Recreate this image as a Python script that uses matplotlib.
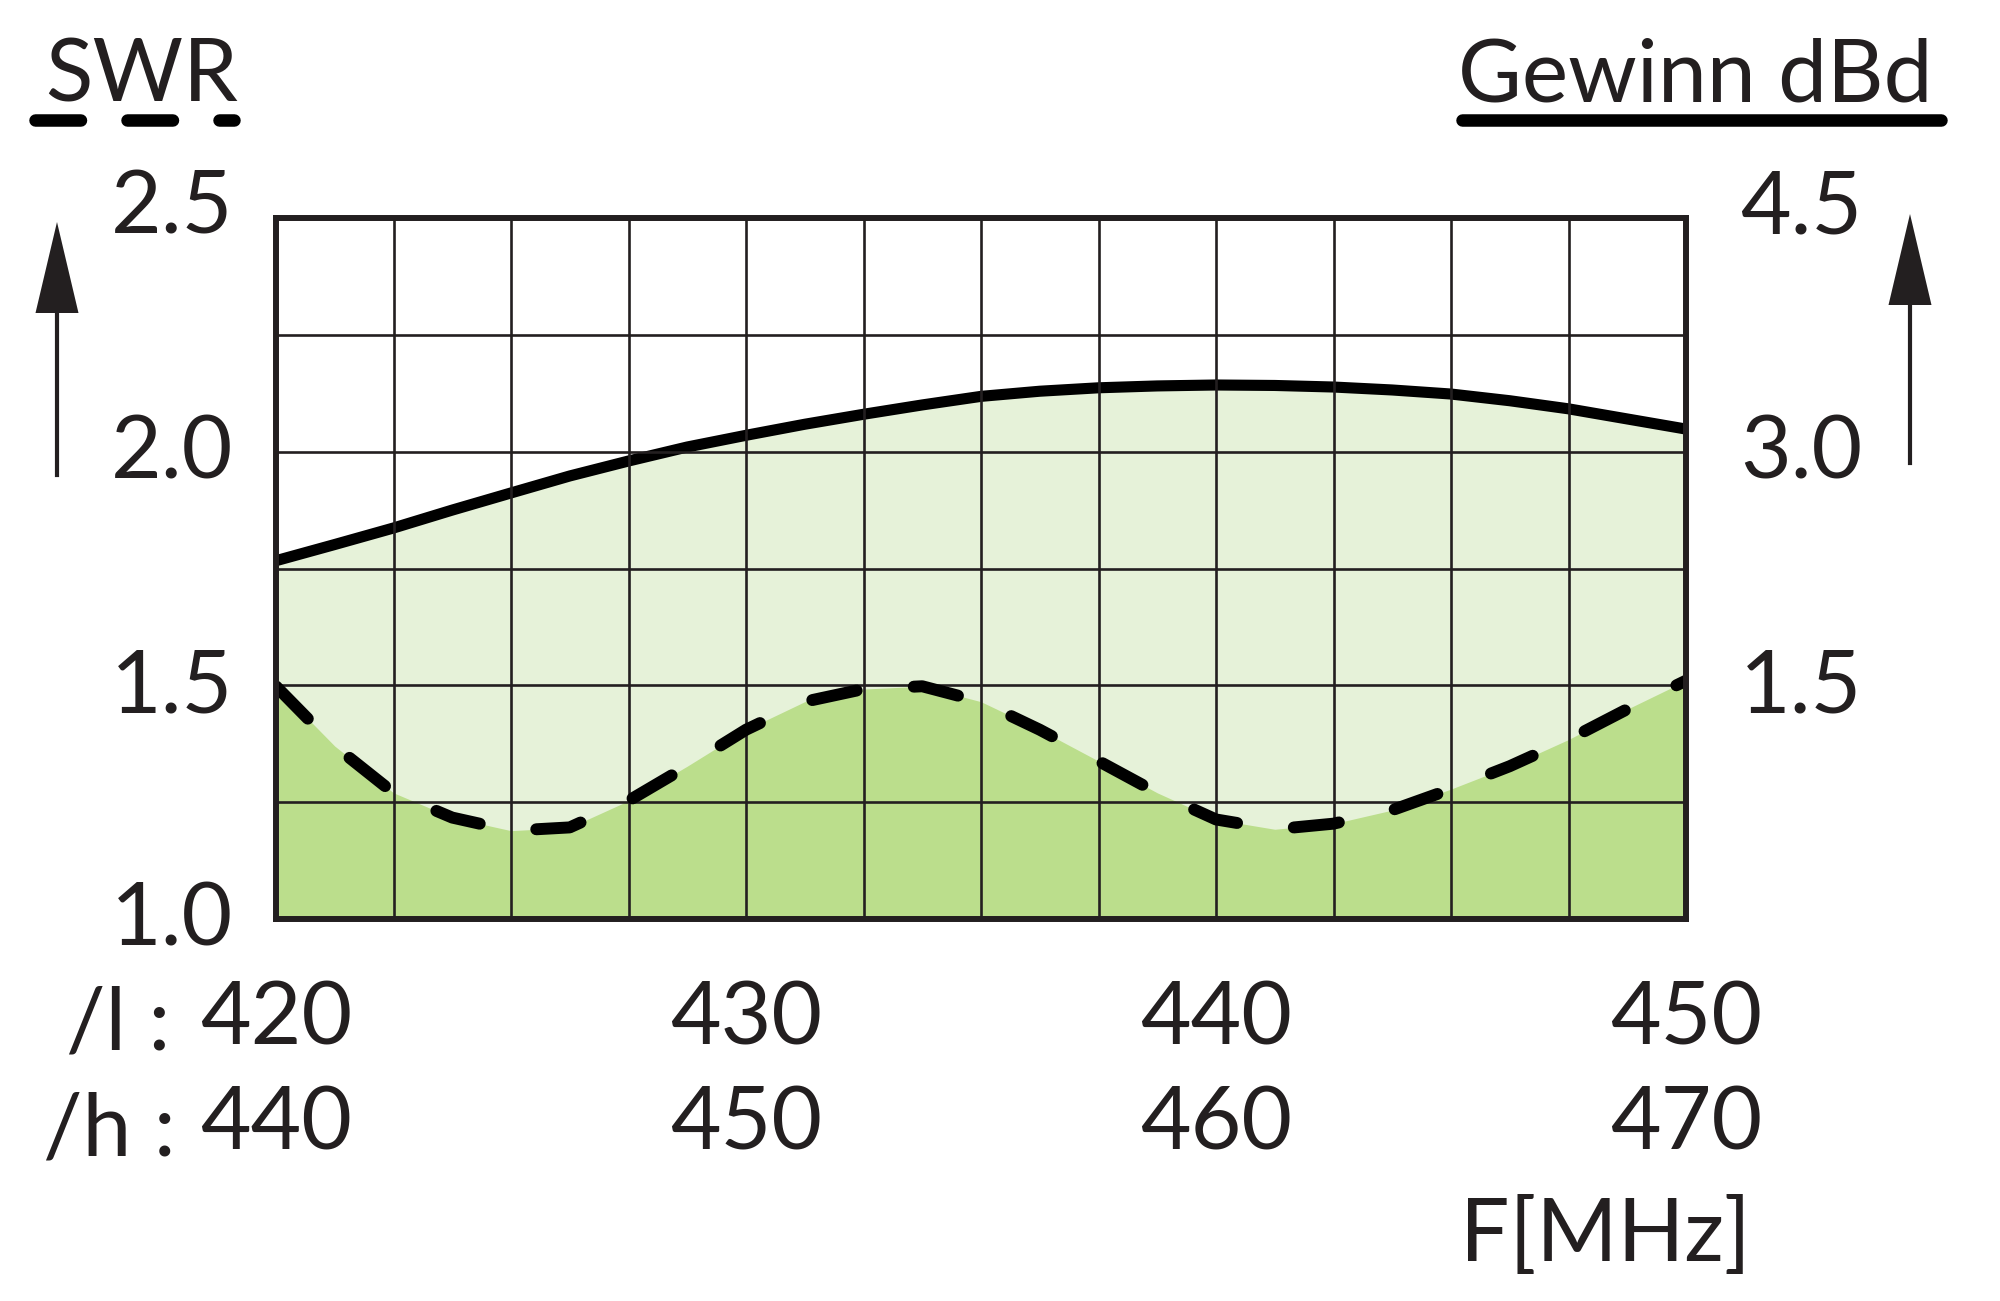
import numpy as np
import matplotlib
matplotlib.use("Agg")
import matplotlib.pyplot as plt
from matplotlib.lines import Line2D
from matplotlib.patches import Polygon
from matplotlib.transforms import offset_copy

# SWR curve (dashed), read every 1.25 MHz of the lower band
freq_swr = [420, 421.25, 422.5, 423.75, 425, 426.25, 427.5, 428.75, 430, 431.25,
            432.5, 433.75, 435, 436.25, 437.5, 438.75, 440, 441.25, 442.5, 443.75,
            445, 446.25, 447.5, 448.75, 450]
swr = [1.498, 1.37, 1.27, 1.217, 1.189, 1.196, 1.253, 1.327, 1.405, 1.465,
       1.492, 1.498, 1.465, 1.405, 1.338, 1.27, 1.213, 1.192, 1.204, 1.233,
       1.278, 1.327, 1.384, 1.449, 1.51]

# gain curve (solid), dBd
freq_gain = [420, 421.25, 422.5, 423.75, 425, 426.25, 427.5, 428.75, 430, 431.25,
             432.5, 433.75, 435, 436.25, 437.5, 438.75, 440, 441.25, 442.5, 443.75,
             445, 446.25, 447.5, 448.75, 450]
gain = [2.30, 2.404, 2.51, 2.625, 2.735, 2.844, 2.94, 3.03, 3.105, 3.176,
        3.24, 3.30, 3.355, 3.388, 3.41, 3.422, 3.428, 3.425, 3.415, 3.396,
        3.37, 3.327, 3.275, 3.21, 3.145]

low_ticks = [420, 430, 440, 450]
high_ticks = [440, 450, 460, 470]
swr_ticks = [1.0, 1.5, 2.0, 2.5]
gain_ticks = [1.5, 3.0, 4.5]

INK = '#231f20'
LIGHT = '#e6f2d9'
DARK = '#bbde8c'
FS = 63
W, H = 2000, 1301

plt.rcParams['font.family'] = ['Lato', 'DejaVu Sans']
plt.rcParams['text.color'] = INK


def fx(px):
    return px / W


def fy(py):
    return 1 - py / H


fig = plt.figure(figsize=(W / 100, H / 100), dpi=100)
fig.patch.set_facecolor('white')

left, right, top, bottom = 276, 1686, 218, 919
ax = fig.add_axes([fx(left), fy(bottom), fx(right - left), (bottom - top) / H])
ax2 = ax.twinx()
ax.set_zorder(ax2.get_zorder() + 1)
ax.patch.set_visible(False)

# gain on the right-hand scale (drawn behind)
ax2.fill_between(freq_gain, 0, gain, color=LIGHT, lw=0, zorder=1)
ax2.plot(freq_gain, gain, color='black', lw=8, solid_capstyle='butt',
         solid_joinstyle='round', zorder=3)
ax2.set_ylim(0, 4.5)
ax2.set_yticks([])
for s in ax2.spines.values():
    s.set_visible(False)

# SWR on the left-hand scale
ax.fill_between(freq_swr, 1.0, swr, color=DARK, lw=0, zorder=1)
ax.plot(freq_swr, swr, color='black', lw=8.6, ls=(0, (3.8, 4.8)),
        dash_capstyle='round', dash_joinstyle='round', zorder=3)
ax.set_xlim(420, 450)
ax.set_ylim(1.0, 2.5)

ax.set_xticks(np.arange(420, 450.1, 2.5), minor=True)
ax.set_yticks(np.arange(1.0, 2.51, 0.25), minor=True)
ax.set_xticks(low_ticks, [str(v) for v in low_ticks])
ax.set_yticks(swr_ticks)
ax.set_axisbelow(False)
ax.grid(True, which='both', color=INK, lw=1.9, zorder=2)
ax.tick_params(axis='both', which='both', length=0)
ax.tick_params(axis='y', labelleft=False)
ax.tick_params(axis='x', labelsize=FS, labelcolor=INK, pad=44)
for s in ax.spines.values():
    s.set_linewidth(4.3)
    s.set_color(INK)
    s.set_zorder(4)

# upper band row under the lower band row
sec = ax.secondary_xaxis('bottom', functions=(lambda f: f + 20, lambda f: f - 20))
sec.set_xticks(high_ticks, [str(v) for v in high_ticks])
sec.tick_params(length=0, labelsize=FS, labelcolor=INK, pad=120)
sec.spines['bottom'].set_visible(False)

# y labels
ytr = ax.get_yaxis_transform()
for v in swr_ticks:
    dy = -16 if v == swr_ticks[-1] else -27
    ax.text(-0.0305, v, f"{v:.1f}", fontsize=FS, ha='right', va='baseline',
            transform=offset_copy(ytr, fig=fig, y=dy, units='dots'))
ytr2 = ax2.get_yaxis_transform()
for v in gain_ticks:
    dy = -16 if v == gain_ticks[-1] else -27
    ax2.text(1.0383, v, f"{v:.1f}", fontsize=FS, ha='left', va='baseline',
             transform=offset_copy(ytr2, fig=fig, y=dy, units='dots'))

# headings with underlines
fig.text(fx(45), fy(102), "SWR", fontsize=FS, ha='left', va='baseline')
fig.add_artist(Line2D([fx(35), fx(234)], [fy(120), fy(120)], color='black', lw=9,
                      ls=(0, (3.64, 3.72)), dash_capstyle='round'))
fig.text(fx(1932), fy(102), "Gewinn dBd", fontsize=FS, ha='right', va='baseline')
fig.add_artist(Line2D([fx(1462), fx(1941)], [fy(120), fy(120)], color='black', lw=9,
                      solid_capstyle='round'))

# band prefixes and unit
fig.text(fx(170), fy(1050), "/l :", fontsize=FS, ha='right', va='baseline')
fig.text(fx(176), fy(1156), "/h :", fontsize=FS, ha='right', va='baseline')
fig.text(fx(1460), fy(1261), "F[MHz]", fontsize=FS, ha='left', va='baseline')

# up arrows beside both scales
for x0, tip, base, foot in [(57, 222, 313, 475), (1910, 214, 305, 463)]:
    fig.add_artist(Line2D([fx(x0), fx(x0)], [fy(foot), fy(base - 5)], color=INK, lw=3))
    fig.add_artist(Polygon([(fx(x0), fy(tip)), (fx(x0 - 21.5), fy(base)), (fx(x0 + 21.5), fy(base))],
                           closed=True, facecolor=INK, edgecolor='none', transform=fig.transFigure))

fig.savefig('out.png', dpi=100)
